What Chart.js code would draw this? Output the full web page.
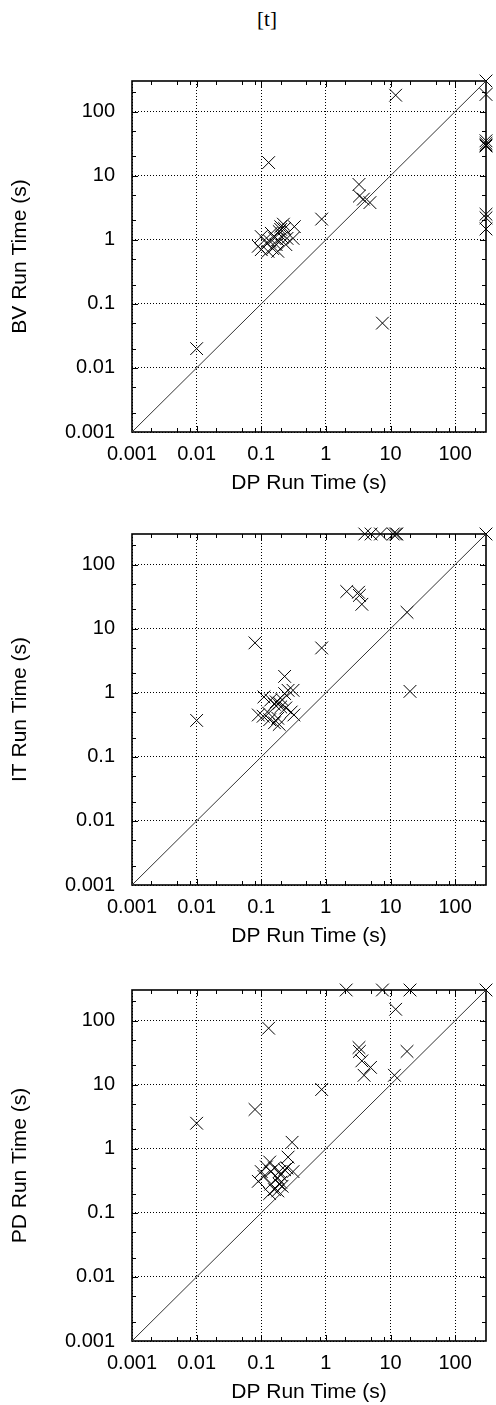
<!DOCTYPE html>
<html>
<head>
<meta charset="utf-8">
<script src="https://cdn.jsdelivr.net/npm/chart.js@4.4.1/dist/chart.umd.min.js"></script>
<style>
    body { margin: 0; background: #fff; width: 496px; height: 1405px; position: relative; overflow: hidden; }
    canvas { position: absolute; left: 0; }
    #marca { position: absolute; left: 0; width: 534px; top: 7px; text-align: center; font: 21px "Liberation Serif", serif; color: #000; }
</style>
</head>
<body>
<div id="marca">[t]</div>
<canvas id="graficoBV" width="496" height="444" style="top:52px"></canvas>
<canvas id="graficoIT" width="496" height="444" style="top:505px"></canvas>
<canvas id="graficoPD" width="496" height="444" style="top:961px"></canvas>
<script>
// eixos (log-log)
const decadas = [0.001, 0.01, 0.1, 1, 10, 100];
const eixoMin = 0.001;
const eixoMax = 300;
const minorX = [2, 5, 8];
const minorY = [2, 5];
const diagonal = [0.001, 300];

// BV x DP
const dpBV = [300, 12, 300, 0.13, 300, 300, 300, 300, 3.25, 3.3, 3.8, 4.8, 0.86, 300, 300, 300,
    0.1, 0.09, 0.1, 0.12, 0.127, 0.143, 0.16, 0.17, 0.18, 0.19, 0.2, 0.23, 0.21, 0.24, 0.25, 0.325, 0.31, 0.15, 0.135, 0.18, 0.22, 0.2,
    0.01, 7.5];
const bvTimes = [300, 180, 185, 16, 35, 32, 30, 29, 7.3, 4.8, 4.3, 3.8, 2.1, 2.5, 2.2, 1.47,
    1.12, 0.79, 0.7, 0.89, 0.66, 1.26, 1.06, 0.84, 1.0, 1.34, 1.6, 1.5, 1.1, 0.84, 1.05, 1.6, 1.05, 0.73, 0.95, 0.66, 1.75, 1.45,
    0.02, 0.05];

// IT x DP
const dpIT = [300, 4, 5, 7, 11, 12, 12.5, 2.1, 3.2, 3.3, 3.6, 18, 0.08, 0.86, 20, 0.01,
    0.23, 0.31, 0.26, 0.23, 0.11, 0.14, 0.17, 0.16, 0.19, 0.2, 0.24, 0.29, 0.32, 0.09, 0.107, 0.13, 0.135, 0.16, 0.19, 0.18, 0.21];
const itTimes = [300, 300, 300, 300, 300, 300, 300, 38, 37, 33, 24, 18, 6, 5, 1.05, 0.37,
    1.8, 1.09, 1.09, 0.97, 0.86, 0.77, 0.72, 0.66, 0.69, 0.6, 0.58, 0.5, 0.45, 0.45, 0.43, 0.48, 0.38, 0.34, 0.32, 0.4, 0.78];

// PD x DP
const dpPD = [300, 2.06, 7.5, 20, 12, 0.13, 3.25, 3.3, 3.6, 4.9, 3.9, 18, 11.5, 0.86, 0.08, 0.01,
    0.3, 0.26, 0.135, 0.12, 0.1, 0.09, 0.11, 0.14, 0.16, 0.19, 0.2, 0.18, 0.23, 0.25, 0.31, 0.14, 0.16, 0.19, 0.2, 0.135, 0.18, 0.21];
const pdTimes = [300, 300, 300, 300, 150, 76, 38, 33, 23.5, 18.6, 14, 33, 14, 8.4, 4.1, 2.5,
    1.26, 0.74, 0.62, 0.52, 0.44, 0.31, 0.37, 0.44, 0.5, 0.44, 0.39, 0.35, 0.47, 0.5, 0.44, 0.28, 0.23, 0.28, 0.3, 0.2, 0.22, 0.26];

const fonte = "'Liberation Sans', Arial, sans-serif";

// moldura + tracinhos internos (estilo gnuplot)
const moldura = {
    id: 'moldura',
    beforeDatasetsDraw(chart) {
        const {ctx, chartArea: a, scales: {x, y}} = chart;
        ctx.save();
        ctx.strokeStyle = '#000';
        ctx.lineWidth = 1;
        ctx.beginPath();
        for (let e = -3; e <= 2; e++) {
            [1, ...minorX].forEach(m => {
                const v = m * Math.pow(10, e);
                if (v <= eixoMin || v >= eixoMax) return;
                const px = Math.round(x.getPixelForValue(v)) + 0.5;
                const len = m === 1 ? 6 : 4;
                ctx.moveTo(px, a.bottom); ctx.lineTo(px, a.bottom - len);
                ctx.moveTo(px, a.top); ctx.lineTo(px, a.top + len);
            });
            [1, ...minorY].forEach(m => {
                const v = m * Math.pow(10, e);
                if (v <= eixoMin || v >= eixoMax) return;
                const py = Math.round(y.getPixelForValue(v)) + 0.5;
                const len = m === 1 ? 6 : 4;
                ctx.moveTo(a.left, py); ctx.lineTo(a.left + len, py);
                ctx.moveTo(a.right, py); ctx.lineTo(a.right - len, py);
            });
        }
        ctx.stroke();
        ctx.lineWidth = 1.6;
        ctx.strokeRect(a.left, a.top, a.right - a.left, a.bottom - a.top);
        ctx.restore();
    }
};

function eixoLog(titulo, isY) {
    return {
        type: 'logarithmic',
        min: eixoMin,
        max: eixoMax,
        afterBuildTicks: s => { s.ticks = decadas.map(v => ({value: v})); },
        afterFit: s => {
            if (isY) s.width = 132;
            else s.height = 64;
        },
        grid: { color: '#000', lineWidth: 1, drawTicks: false },
        border: { display: false, dash: [1, 2] },
        ticks: {
            autoSkip: false,
            maxRotation: 0,
            padding: isY ? 17 : 10,
            color: '#000',
            font: { family: fonte, size: 20 },
            callback: v => String(v)
        },
        title: {
            display: true,
            text: titulo,
            color: '#000',
            font: { family: fonte, size: 21 },
            padding: isY ? { top: 8, bottom: 0 } : 0
        }
    };
}

function criarGrafico(id, xs, ys, tituloY) {
    const pontos = xs.map((v, i) => ({x: v, y: ys[i]}));
    const ctx = document.getElementById(id).getContext('2d');
    return new Chart(ctx, {
        type: 'scatter',
        data: {
            datasets: [{
                data: diagonal.map(v => ({x: v, y: v})),
                showLine: true,
                borderColor: '#333',
                borderWidth: 1,
                pointRadius: 0
            }, {
                data: pontos,
                pointStyle: 'crossRot',
                pointRadius: 9,
                borderColor: '#000',
                backgroundColor: '#000',
                borderWidth: 1,
                clip: false
            }]
        },
        options: {
            responsive: false,
            animation: false,
            devicePixelRatio: 1,
            layout: { padding: { top: 20, right: 5, left: 0, bottom: 0 } },
            plugins: { legend: { display: false }, tooltip: { enabled: false } },
            scales: {
                x: eixoLog('DP Run Time (s)', false),
                y: eixoLog(tituloY, true)
            }
        },
        plugins: [moldura]
    });
}

criarGrafico('graficoBV', dpBV, bvTimes, 'BV Run Time (s)');
criarGrafico('graficoIT', dpIT, itTimes, 'IT Run Time (s)');
criarGrafico('graficoPD', dpPD, pdTimes, 'PD Run Time (s)');
</script>
</body>
</html>
